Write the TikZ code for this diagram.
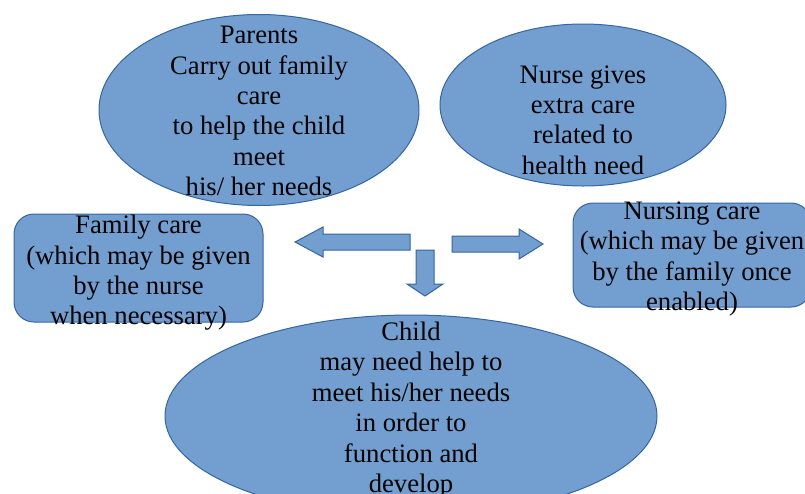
\documentclass[tikz,border=0pt]{standalone}
\usepackage{fontspec}
\setmainfont{Liberation Serif}
\usepackage{xcolor}
\usetikzlibrary{shapes.geometric}

\definecolor{blobfill}{HTML}{729FCF}
\definecolor{blobline}{HTML}{3465A4}

\begin{document}
\begin{tikzpicture}[x=0.75pt, y=-0.75pt,
    blob/.style={ellipse, draw=blobline, fill=blobfill, line width=0.75pt, inner sep=0pt},
    carebox/.style={rectangle, rounded corners=15pt, draw=blobline, fill=blobfill, line width=0.75pt, inner sep=0pt},
    blocktip/.style={draw=blobline, fill=blobfill, line width=0.75pt, line join=miter},
    txt/.style={align=center, inner sep=0pt, font=\fontsize{20}{22.8}\selectfont}]

\clip (0,0) rectangle (805,493);

% Top ellipses
\node[blob, minimum width=240pt, minimum height=143.25pt] (parents) at (259,110) {};
\node[txt] (parentstxt) at (259,111) {Parents\\Carry out family\\care\\to help the child\\meet\\his/ her needs};

\node[blob, minimum width=214.5pt, minimum height=121.5pt] (nurse) at (583,105) {};
\node[txt] (nursetxt) at (583,120) {Nurse gives\\extra care\\related to\\health need};

% Side boxes
\node[carebox, minimum width=186.75pt, minimum height=81pt] (family) at (138.5,268) {};
\node[txt] (familytxt) at (138.5,273) {Family care\\(which may be given\\by the nurse\\when necessary)};

\node[carebox, minimum width=178.5pt, minimum height=78pt] (nursing) at (692,255) {};
\node[txt] (nursingtxt) at (692,259) {Nursing care\\(which may be given\\by the family once\\enabled)};

% Block arrows
\draw[blocktip] (410,234) -- (323,234) -- (323,227) -- (295,242) -- (323,257) -- (323,250) -- (410,250) -- cycle;
\draw[blocktip] (452,236) -- (519,236) -- (519,229) -- (543,244) -- (519,259) -- (519,252) -- (452,252) -- cycle;
\draw[blocktip] (416,250) -- (434,250) -- (434,284) -- (443,284) -- (425,296) -- (407,284) -- (416,284) -- cycle;

% Bottom ellipse
\node[blob, minimum width=369pt, minimum height=151.5pt] (child) at (411,416) {};
\node[txt] (childtxt) at (411,410) {Child\\may need help to\\meet his/her needs\\in order to\\function and\\develop};

\end{tikzpicture}
\end{document}
